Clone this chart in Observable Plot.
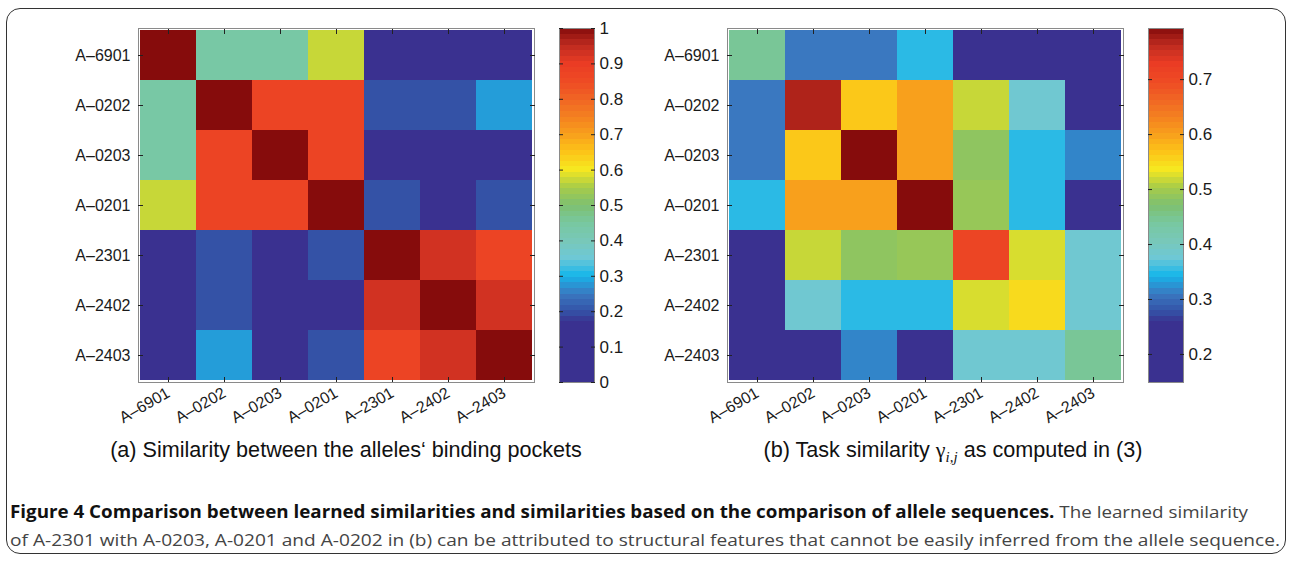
<!DOCTYPE html>
<html><head><meta charset="utf-8">
<script src="https://cdn.jsdelivr.net/npm/d3@7"></script>
<script src="https://cdn.jsdelivr.net/npm/@observablehq/plot@0.6"></script>
<style>
body{margin:0;background:#fff;}
#fig{position:relative;width:1292px;height:562px;font-family:"Liberation Sans",Arial,sans-serif;overflow:hidden;}
#border{position:absolute;left:6px;top:8px;width:1280px;height:546px;border:1.6px solid #333;border-radius:14px;box-sizing:border-box;}
.panel{position:absolute;top:0;}
.sub{position:absolute;top:437px;font-size:21.6px;color:#111;white-space:nowrap;transform:translateX(-50%);}
</style></head><body>
<div id="fig">
 <div id="border"></div>
 <div id="pa" class="panel" style="left:0px"></div>
 <div id="ca" class="panel" style="left:540px"></div>
 <div id="pb" class="panel" style="left:590px"></div>
 <div id="cb" class="panel" style="left:1129px"></div>
 <div class="sub" style="left:346px">(a) Similarity between the alleles‘ binding pockets</div>
 <div class="sub" style="left:953px">(b) Task similarity <span style="font-family:'Liberation Serif',serif;font-size:22px">γ</span><sub style="font-family:'Liberation Serif',serif;font-style:italic;font-size:15px">i,j</sub> as computed in (3)</div>
 <svg id="cap" width="1292" height="72" style="position:absolute;left:0;top:490px" font-family="'Open Sans','Noto Sans',sans-serif" font-size="17">
  <text x="10" y="28" textLength="1238" lengthAdjust="spacingAndGlyphs"><tspan font-weight="bold" fill="#111">Figure 4 Comparison between learned similarities and similarities based on the comparison of allele sequences.</tspan><tspan fill="#444"> The learned similarity</tspan></text>
  <text x="10" y="56" textLength="1270" lengthAdjust="spacingAndGlyphs" fill="#444">of A-2301 with A-0203, A-0201 and A-0202 in (b) can be attributed to structural features that cannot be easily inferred from the allele sequence.</text>
 </svg>
</div>
<script>
const alleles = ["A-6901","A-0202","A-0203","A-0201","A-2301","A-2402","A-2403"];

// (a) similarity between binding pockets (rows = y, columns = x)
const pocketSim = [
  [1.00, 0.44, 0.44, 0.57, 0.10, 0.10, 0.10],
  [0.44, 1.00, 0.87, 0.87, 0.20, 0.20, 0.28],
  [0.44, 0.87, 1.00, 0.87, 0.10, 0.10, 0.10],
  [0.57, 0.87, 0.87, 1.00, 0.20, 0.10, 0.20],
  [0.10, 0.20, 0.10, 0.20, 1.00, 0.93, 0.87],
  [0.10, 0.20, 0.10, 0.10, 0.93, 1.00, 0.93],
  [0.10, 0.28, 0.10, 0.20, 0.87, 0.93, 1.00]
];
const pocketDomain = [0, 1];
const pocketTicks = [0, 0.1, 0.2, 0.3, 0.4, 0.5, 0.6, 0.7, 0.8, 0.9, 1];

// (b) task similarity gamma_ij
const taskSim = [
  [0.445, 0.31, 0.31, 0.35, 0.20, 0.20, 0.21],
  [0.31, 0.77, 0.564, 0.60, 0.516, 0.38, 0.22],
  [0.31, 0.564, 0.793, 0.60, 0.484, 0.35, 0.317],
  [0.35, 0.60, 0.60, 0.793, 0.49, 0.35, 0.21],
  [0.20, 0.516, 0.484, 0.49, 0.709, 0.523, 0.38],
  [0.20, 0.38, 0.35, 0.35, 0.523, 0.548, 0.38],
  [0.21, 0.22, 0.317, 0.21, 0.38, 0.38, 0.445]
];
const taskDomain = [0.149, 0.793];
const taskTicks = [0.2, 0.3, 0.4, 0.5, 0.6, 0.7];

// jet-like colormap as it appears in the print
const stopT = [0, 0.17, 0.2, 0.25, 0.3, 0.35, 0.4, 0.45, 0.5, 0.55, 0.6, 0.65, 0.7, 0.75, 0.8, 0.85, 0.9, 0.95, 1];
const stopColors = ["#3a3190","#3a3190","#3452a6","#3a78c0","#16b6ea","#6ec8d6","#78c8b8","#78c8a0","#7ec070","#a8cc48","#f6e820","#fcc418","#f8a01c","#f48020","#f06424","#ee4a24","#ea3c24","#c02c20","#860c0c"];

const fmt = d => d.replace("-", "\u2013");
const numFmt = d3.format("~g");
const colorOpts = ([lo, hi]) => ({type: "linear", domain: stopT.map(t => lo + t * (hi - lo)), range: stopColors, clamp: true});
const font = "'Liberation Sans', Arial, Helvetica, sans-serif";

function heatmap(values, dom, mL, mR) {
  const data = [];
  alleles.forEach((r, i) => alleles.forEach((c, j) => data.push({row: r, col: c, v: values[i][j]})));
  return Plot.plot({
    width: 560, height: 432, marginLeft: mL, marginRight: mR, marginTop: 28, marginBottom: 50,
    x: {domain: alleles, padding: 0, label: null},
    y: {domain: alleles, padding: 0, label: null},
    color: colorOpts(dom),
    style: {fontFamily: font, fontSize: "16px", color: "#1a1a1a", background: "transparent", overflow: "visible"},
    marks: [
      Plot.cell(data, {x: "col", y: "row", fill: "v", shapeRendering: "crispEdges"}),
      Plot.frame({stroke: "#8a8a8a"}),
      Plot.axisX({anchor: "bottom", tickSize: -5, tickPadding: 14, tickRotate: -30, tickFormat: fmt, fontSize: 16, stroke: "#222"}),
      Plot.axisX({anchor: "top", tickSize: -5, tickFormat: () => "", stroke: "#222"}),
      Plot.axisY({anchor: "left", tickSize: -5, tickPadding: 13, tickFormat: fmt, fontSize: 16, stroke: "#222"}),
      Plot.axisY({anchor: "right", tickSize: -5, tickFormat: () => "", stroke: "#222"})
    ]
  });
}

function colorbar(dom, ticks) {
  const [lo, hi] = dom, n = 64;
  const bands = d3.range(n).map(i => ({y1: lo + (hi - lo) * i / n, y2: lo + (hi - lo) * (i + 1) / n}));
  return Plot.plot({
    width: 90, height: 432, marginLeft: 19, marginRight: 36, marginTop: 28, marginBottom: 50,
    x: {domain: [0, 1], axis: null},
    y: {domain: dom, label: null},
    color: colorOpts(dom),
    style: {fontFamily: font, fontSize: "16px", color: "#1a1a1a", background: "transparent", overflow: "visible"},
    marks: [
      Plot.rect(bands, {x1: 0, x2: 1, y1: "y1", y2: "y2", fill: d => (d.y1 + d.y2) / 2, shapeRendering: "crispEdges"}),
      Plot.frame({stroke: "#8a8a8a"}),
      Plot.axisY({anchor: "right", ticks, tickSize: -4, tickPadding: 9, tickFormat: numFmt, fontSize: 17, stroke: "#222"}),
      Plot.axisY({anchor: "left", ticks, tickSize: -4, tickFormat: () => "", stroke: "#222"})
    ]
  });
}

document.getElementById("pa").append(heatmap(pocketSim, pocketDomain, 138, 26));
document.getElementById("ca").append(colorbar(pocketDomain, pocketTicks));
document.getElementById("pb").append(heatmap(taskSim, taskDomain, 137, 27));
document.getElementById("cb").append(colorbar(taskDomain, taskTicks));
</script>
</body></html>
